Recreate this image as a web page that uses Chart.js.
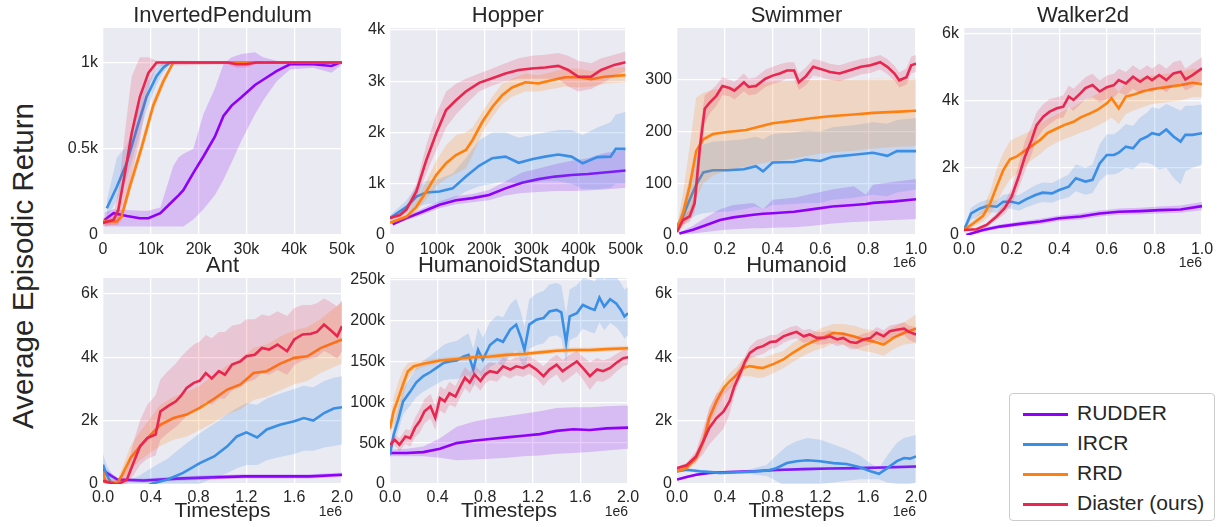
<!DOCTYPE html>
<html lang="en">
<head>
  <meta charset="UTF-8">
  <title>Average Episodic Return</title>
  <script src="https://cdn.jsdelivr.net/npm/chart.js"></script>
  <style>
    body { margin: 0; width: 1225px; height: 527px; overflow: hidden; background: #fff; position: relative;
           font-family: "Liberation Sans", Arial, sans-serif; color: #262626; }
    canvas { position: absolute; }
    #ylabel { position: absolute; left: -177px; top: 251px; width: 400px; height: 30px; line-height: 30px;
              font-size: 29.5px; text-align: center; transform: rotate(-90deg); white-space: nowrap; }
    #legend { position: absolute; left: 1009px; top: 393px; width: 206px; height: 128px; box-sizing: border-box;
              border: 1px solid #cccccc; border-radius: 4px; background: #fff; padding-top: 4px; }
    .item { height: 30px; line-height: 30px; font-size: 21px; white-space: nowrap; }
    .swatch { display: inline-block; width: 45px; height: 2.6px; margin: 0 9px 0 13px; vertical-align: middle; }
  </style>
</head>
<body>
  <div id="ylabel">Average Episodic Return</div>
  <div id="legend"></div>

  <script>
    const methods = ['RUDDER', 'IRCR', 'RRD', 'Diaster (ours)'];
    const lineColors = ['#8e00fa', '#3a8ee6', '#ff800e', '#e8264f'];
    const bandColors = ['rgba(142,0,250,0.2)', 'rgba(58,142,230,0.2)', 'rgba(255,128,14,0.2)', 'rgba(232,38,79,0.18)'];

    // tick values per panel
    const ipXTicks = [0, 10, 20, 30, 40, 50];
    const ipYTicks = [0, 0.5, 1];
    const hopXTicks = [0, 100, 200, 300, 400, 500];
    const hopYTicks = [0, 1, 2, 3, 4];
    const unitXTicks = [0, 0.2, 0.4, 0.6, 0.8, 1.0];
    const swimYTicks = [0, 100, 200, 300];
    const walkYTicks = [0, 2, 4, 6];
    const twoXTicks = [0, 0.4, 0.8, 1.2, 1.6, 2.0];
    const antYTicks = [0, 2, 4, 6];
    const hsYTicks = [0, 50, 100, 150, 200, 250];
    const humYTicks = [0, 2, 4, 6];

    // InvertedPendulum (x: k steps, y: k)
    const ipRudderX = [0.3, 2.2, 5, 7.7, 9.5, 12, 14.7, 15.8, 16.8, 18.9, 21, 23.4, 25.2, 26.9, 29, 31.8, 33.5, 36.3, 39.1, 44, 47.8, 49.6, 50];
    const ipRudder = [0.087, 0.126, 0.11, 0.097, 0.097, 0.126, 0.2, 0.23, 0.26, 0.36, 0.455, 0.57, 0.69, 0.75, 0.8, 0.87, 0.9, 0.95, 0.99, 0.99, 0.98, 1.0, 1.0];
    const ipRudderLo = [0.05, 0.05, 0.05, 0.05, 0.05, 0.05, 0.05, 0.05, 0.05, 0.09, 0.15, 0.23, 0.32, 0.42, 0.55, 0.7, 0.78, 0.89, 0.96, 0.97, 0.94, 0.98, 0.99];
    const ipRudderHi = [0.13, 0.15, 0.145, 0.14, 0.14, 0.16, 0.4, 0.45, 0.47, 0.5, 0.7, 0.85, 0.99, 1.03, 1.05, 1.06, 1.03, 1.01, 1.0, 1.0, 1.0, 1.0, 1.0];
    const ipIrcrX = [0.8, 2.9, 5, 7, 9.1, 11.2, 12.6, 14, 50];
    const ipIrcr = [0.155, 0.28, 0.42, 0.61, 0.8, 0.92, 0.97, 1.0, 1.0];
    const ipIrcrLo = [0.1, 0.2, 0.33, 0.52, 0.72, 0.87, 0.94, 0.99, 1.0];
    const ipIrcrHi = [0.2, 0.45, 0.52, 0.7, 0.88, 0.97, 1.0, 1.01, 1.0];
    const ipRrdX = [0, 2.9, 3.9, 5.6, 8.1, 10.5, 12.6, 14.7, 50];
    const ipRrd = [0.078, 0.078, 0.107, 0.28, 0.51, 0.75, 0.89, 1.0, 1.0];
    const ipRrdLo = [0.06, 0.06, 0.08, 0.24, 0.47, 0.71, 0.86, 0.99, 1.0];
    const ipRrdHi = [0.1, 0.1, 0.14, 0.32, 0.55, 0.79, 0.92, 1.01, 1.0];
    const ipDiasterX = [0, 2.2, 3.2, 4.6, 6, 7.7, 9.5, 11.2, 26, 28, 30, 32, 50];
    const ipDiaster = [0.07, 0.087, 0.145, 0.36, 0.59, 0.8, 0.94, 1.0, 1.0, 0.99, 0.99, 1.0, 1.0];
    const ipDiasterLo = [0.05, 0.06, 0.06, 0.2, 0.35, 0.55, 0.85, 0.98, 0.99, 0.97, 0.97, 0.99, 1.0];
    const ipDiasterHi = [0.09, 0.12, 0.25, 0.6, 0.92, 1.03, 1.03, 1.01, 1.0, 1.0, 1.0, 1.0, 1.0];

    // Hopper (x: k steps, y: k)
    const hopRudderX = [5.6, 35, 70, 105, 140, 175, 210, 245, 280, 315, 350, 385, 420, 455, 500];
    const hopRudder = [0.21, 0.33, 0.46, 0.59, 0.68, 0.72, 0.78, 0.91, 1.02, 1.09, 1.14, 1.17, 1.19, 1.22, 1.26];
    const hopRudderLo = [0.19, 0.29, 0.4, 0.52, 0.6, 0.64, 0.68, 0.77, 0.82, 0.84, 0.86, 0.86, 0.87, 0.89, 0.92];
    const hopRudderHi = [0.23, 0.37, 0.52, 0.66, 0.76, 0.8, 0.88, 1.05, 1.22, 1.3, 1.38, 1.45, 1.5, 1.6, 1.66];
    const hopIrcrX = [0, 35, 56, 77, 105, 133, 161, 189, 217, 245, 273, 301, 329, 357, 385, 409, 440, 468, 479, 500];
    const hopIrcr = [0.33, 0.55, 0.75, 0.83, 0.85, 0.91, 1.14, 1.35, 1.5, 1.53, 1.41, 1.48, 1.53, 1.57, 1.53, 1.4, 1.52, 1.53, 1.68, 1.68];
    const hopIrcrLo = [0.28, 0.42, 0.55, 0.6, 0.62, 0.7, 0.85, 0.95, 1.0, 1.05, 1.0, 1.02, 1.05, 1.05, 1.0, 0.9, 0.9, 0.92, 1.0, 1.0];
    const hopIrcrHi = [0.38, 0.68, 0.95, 1.05, 1.1, 1.2, 1.5, 1.85, 2.0, 2.0, 1.9, 1.95, 2.0, 2.05, 2.05, 1.95, 2.1, 2.2, 2.35, 2.4];
    const hopRrdX = [0, 35, 56, 77, 98, 119, 140, 161, 175, 196, 217, 238, 259, 287, 315, 343, 371, 399, 427, 455, 500];
    const hopRrd = [0.24, 0.36, 0.55, 0.85, 1.17, 1.4, 1.56, 1.66, 1.85, 2.21, 2.5, 2.73, 2.88, 2.98, 2.96, 3.02, 3.08, 3.08, 3.04, 3.09, 3.12];
    const hopRrdLo = [0.2, 0.3, 0.45, 0.7, 0.95, 1.1, 1.2, 1.3, 1.55, 2.0, 2.3, 2.55, 2.7, 2.8, 2.8, 2.85, 2.9, 2.88, 2.9, 2.95, 2.98];
    const hopRrdHi = [0.28, 0.42, 0.68, 1.05, 1.45, 1.75, 1.95, 2.0, 2.1, 2.4, 2.7, 2.95, 3.05, 3.15, 3.12, 3.18, 3.25, 3.25, 3.2, 3.25, 3.28];
    const hopDiasterX = [0, 21, 35, 56, 77, 98, 119, 140, 161, 189, 217, 245, 273, 301, 329, 357, 378, 399, 427, 448, 476, 500];
    const hopDiaster = [0.33, 0.39, 0.5, 0.85, 1.46, 1.98, 2.44, 2.63, 2.8, 2.97, 3.06, 3.15, 3.22, 3.25, 3.27, 3.3, 3.22, 3.09, 3.09, 3.22, 3.32, 3.37];
    const hopDiasterLo = [0.3, 0.35, 0.44, 0.7, 1.2, 1.65, 2.1, 2.35, 2.55, 2.8, 2.92, 3.0, 3.05, 3.05, 3.05, 3.05, 2.9, 2.8, 2.85, 2.95, 3.1, 3.2];
    const hopDiasterHi = [0.36, 0.43, 0.56, 1.0, 1.75, 2.35, 2.8, 2.95, 3.05, 3.15, 3.25, 3.35, 3.45, 3.5, 3.52, 3.55, 3.5, 3.4, 3.35, 3.45, 3.52, 3.58];

    // Swimmer (x: 1e6 steps, y: return)
    const swimRudderX = [0.01, 0.067, 0.12, 0.18, 0.235, 0.32, 0.36, 0.4, 0.49, 0.57, 0.65, 0.74, 0.79, 0.82, 0.91, 1.0];
    const swimRudder = [3, 10, 19, 29, 34, 39, 41, 42, 45, 50, 55, 58, 60, 62, 65, 69];
    const swimRudderLo = [1, 3, 6, 9, 11, 13, 13, 14, 15, 18, 22, 25, 26, 27, 29, 31];
    const swimRudderHi = [5, 18, 34, 50, 58, 62, 50, 68, 72, 80, 88, 94, 78, 97, 103, 108];
    const swimIrcrX = [0, 0.025, 0.053, 0.08, 0.11, 0.15, 0.21, 0.28, 0.33, 0.36, 0.4, 0.49, 0.54, 0.6, 0.65, 0.74, 0.82, 0.88, 0.92, 1.0];
    const swimIrcr = [16, 36, 68, 97, 121, 125, 125, 127, 133, 123, 140, 141, 146, 143, 151, 155, 159, 153, 162, 162];
    const swimIrcrLo = [10, 20, 30, 38, 42, 44, 45, 50, 55, 50, 58, 60, 62, 62, 68, 72, 78, 75, 82, 88];
    const swimIrcrHi = [22, 55, 110, 150, 175, 180, 182, 185, 190, 185, 195, 198, 202, 200, 208, 212, 218, 215, 222, 226];
    const swimRrdX = [0, 0.025, 0.053, 0.08, 0.11, 0.15, 0.21, 0.29, 0.35, 0.4, 0.49, 0.57, 0.65, 0.74, 0.82, 0.91, 1.0];
    const swimRrd = [10, 42, 94, 162, 185, 195, 199, 203, 210, 216, 221, 226, 230, 233, 236, 238, 240];
    const swimRrdLo = [5, 15, 35, 70, 100, 115, 125, 132, 138, 142, 148, 155, 160, 163, 167, 170, 172];
    const swimRrdHi = [15, 80, 170, 265, 275, 280, 285, 290, 293, 296, 298, 300, 301, 301, 302, 302, 302];
    const swimDiasterX = [0, 0.025, 0.053, 0.074, 0.095, 0.116, 0.137, 0.165, 0.19, 0.22, 0.24, 0.28, 0.3, 0.33, 0.37, 0.4, 0.43, 0.46, 0.49, 0.51, 0.54, 0.57, 0.6, 0.64, 0.68, 0.72, 0.77, 0.81, 0.85, 0.88, 0.91, 0.93, 0.96, 0.98, 1.0];
    const swimDiaster = [6, 29, 36, 62, 166, 244, 256, 269, 288, 284, 279, 295, 286, 288, 302, 308, 312, 318, 318, 295, 307, 325, 321, 315, 312, 318, 325, 328, 334, 325, 312, 299, 305, 328, 331];
    const swimDiasterLo = [3, 20, 25, 45, 130, 215, 235, 250, 270, 268, 262, 278, 270, 272, 286, 292, 296, 302, 302, 280, 290, 308, 305, 300, 297, 303, 310, 313, 320, 311, 298, 285, 291, 312, 315];
    const swimDiasterHi = [9, 38, 48, 80, 200, 270, 278, 290, 305, 300, 296, 312, 302, 305, 320, 325, 330, 334, 334, 312, 324, 340, 337, 331, 328, 334, 340, 343, 348, 340, 327, 314, 322, 345, 348];

    // Walker2d (x: 1e6 steps, y: k)
    const walkRudderX = [0.01, 0.08, 0.15, 0.235, 0.32, 0.4, 0.49, 0.57, 0.65, 0.74, 0.82, 0.91, 1.0];
    const walkRudder = [0.0, 0.15, 0.25, 0.33, 0.4, 0.5, 0.55, 0.64, 0.69, 0.71, 0.74, 0.76, 0.86];
    const walkRudderLo = [0, 0.1, 0.19, 0.26, 0.32, 0.42, 0.46, 0.55, 0.6, 0.62, 0.64, 0.66, 0.74];
    const walkRudderHi = [0.02, 0.2, 0.31, 0.4, 0.48, 0.58, 0.64, 0.73, 0.79, 0.81, 0.85, 0.88, 0.98];
    const walkIrcrX = [0, 0.03, 0.067, 0.1, 0.137, 0.165, 0.2, 0.23, 0.26, 0.3, 0.33, 0.37, 0.4, 0.44, 0.47, 0.51, 0.54, 0.57, 0.6, 0.63, 0.65, 0.68, 0.71, 0.74, 0.77, 0.79, 0.82, 0.85, 0.88, 0.91, 0.93, 0.96, 1.0];
    const walkIrcr = [0.15, 0.64, 0.79, 0.87, 0.84, 0.99, 0.99, 0.94, 1.06, 1.19, 1.26, 1.24, 1.34, 1.44, 1.69, 1.59, 1.64, 2.13, 2.38, 2.38, 2.45, 2.63, 2.58, 2.83, 2.93, 3.03, 2.98, 3.14, 2.93, 2.78, 2.98, 2.98, 3.03];
    const walkIrcrLo = [0.1, 0.45, 0.6, 0.68, 0.66, 0.8, 0.78, 0.72, 0.82, 0.92, 0.98, 0.96, 1.05, 1.12, 1.3, 1.2, 1.25, 1.6, 1.8, 1.8, 1.85, 2.0, 1.95, 2.15, 2.15, 2.1, 1.95, 2.0, 1.7, 1.5, 1.9, 2.0, 2.1];
    const walkIrcrHi = [0.2, 0.82, 0.98, 1.06, 1.02, 1.2, 1.22, 1.18, 1.32, 1.48, 1.56, 1.55, 1.66, 1.8, 2.1, 2.0, 2.1, 2.7, 3.0, 3.0, 3.1, 3.3, 3.25, 3.5, 3.65, 3.8, 3.75, 3.9, 3.8, 3.7, 3.85, 3.85, 3.88];
    const walkRrdX = [0, 0.04, 0.08, 0.11, 0.137, 0.165, 0.193, 0.22, 0.25, 0.28, 0.32, 0.35, 0.39, 0.42, 0.46, 0.49, 0.53, 0.56, 0.6, 0.62, 0.65, 0.68, 0.71, 0.75, 0.79, 0.85, 0.91, 0.96, 1.0];
    const walkRrd = [0.15, 0.35, 0.57, 0.94, 1.44, 1.93, 2.25, 2.33, 2.48, 2.63, 2.83, 3.03, 3.17, 3.27, 3.37, 3.5, 3.62, 3.72, 3.92, 4.07, 3.77, 4.12, 4.17, 4.27, 4.34, 4.4, 4.46, 4.53, 4.49];
    const walkRrdLo = [0.1, 0.25, 0.4, 0.6, 0.95, 1.35, 1.65, 1.8, 2.0, 2.2, 2.4, 2.6, 2.75, 2.85, 2.95, 3.05, 3.15, 3.25, 3.4, 3.5, 3.3, 3.6, 3.7, 3.8, 3.9, 3.95, 4.0, 4.1, 4.1];
    const walkRrdHi = [0.2, 0.45, 0.8, 1.3, 1.95, 2.45, 2.8, 2.9, 3.0, 3.1, 3.3, 3.45, 3.6, 3.7, 3.8, 3.95, 4.1, 4.2, 4.4, 4.5, 4.25, 4.55, 4.6, 4.7, 4.75, 4.8, 4.85, 4.95, 4.9];
    const walkDiasterX = [0, 0.053, 0.095, 0.137, 0.17, 0.2, 0.23, 0.256, 0.284, 0.305, 0.333, 0.36, 0.39, 0.417, 0.44, 0.46, 0.49, 0.51, 0.54, 0.57, 0.6, 0.63, 0.65, 0.68, 0.71, 0.74, 0.77, 0.79, 0.82, 0.85, 0.88, 0.91, 0.93, 0.96, 1.0];
    const walkDiaster = [0.15, 0.17, 0.3, 0.55, 0.79, 1.14, 1.74, 2.33, 2.83, 3.27, 3.52, 3.67, 3.77, 3.82, 4.12, 4.02, 4.22, 4.37, 4.46, 4.27, 4.4, 4.46, 4.61, 4.51, 4.71, 4.56, 4.71, 4.61, 4.76, 4.61, 4.81, 4.86, 4.63, 4.76, 4.96];
    const walkDiasterLo = [0.12, 0.13, 0.24, 0.45, 0.62, 0.9, 1.4, 1.9, 2.4, 2.85, 3.15, 3.3, 3.45, 3.5, 3.8, 3.7, 3.9, 4.05, 4.1, 3.95, 4.05, 4.1, 4.25, 4.15, 4.35, 4.2, 4.35, 4.25, 4.4, 4.25, 4.45, 4.5, 4.3, 4.4, 4.6];
    const walkDiasterHi = [0.18, 0.21, 0.36, 0.65, 0.96, 1.4, 2.1, 2.8, 3.25, 3.65, 3.9, 4.05, 4.1, 4.15, 4.45, 4.35, 4.55, 4.7, 4.8, 4.6, 4.75, 4.8, 4.95, 4.85, 5.05, 4.9, 5.05, 4.95, 5.1, 4.95, 5.15, 5.2, 4.95, 5.1, 5.3];

    // Ant (x: 1e6 steps, y: k)
    const antRudderX = [0, 0.03, 0.12, 0.34, 0.62, 0.9, 1.18, 1.46, 1.73, 2.0];
    const antRudder = [0.45, 0.35, 0.14, 0.11, 0.17, 0.21, 0.24, 0.24, 0.24, 0.29];
    const antRudderLo = [0.3, 0.25, 0.08, 0.05, 0.1, 0.14, 0.17, 0.17, 0.17, 0.22];
    const antRudderHi = [0.6, 0.45, 0.2, 0.17, 0.24, 0.28, 0.31, 0.31, 0.31, 0.36];
    const antIrcrX = [0, 0.03, 0.07, 0.1, 0.2, 0.3, 0.4, 0.54, 0.67, 0.81, 0.93, 1.04, 1.12, 1.2, 1.29, 1.37, 1.48, 1.6, 1.68, 1.76, 1.85, 1.93, 2.0];
    const antIrcr = [0.61, 0.29, 0.03, -0.2, -0.4, -0.25, 0.0, 0.14, 0.35, 0.66, 0.87, 1.19, 1.5, 1.63, 1.47, 1.72, 1.87, 1.98, 2.08, 2.0, 2.24, 2.38, 2.42];
    const antIrcrLo = [0.3, 0.0, -0.3, -0.6, -0.9, -0.8, -0.5, -0.4, -0.2, 0.0, 0.2, 0.35, 0.5, 0.6, 0.6, 0.75, 0.85, 0.95, 1.05, 1.05, 1.15, 1.2, 1.25];
    const antIrcrHi = [0.95, 0.6, 0.35, 0.2, 0.1, 0.25, 0.5, 0.8, 1.2, 1.6, 1.9, 2.2, 2.4, 2.55, 2.5, 2.7, 2.85, 3.0, 3.1, 3.05, 3.25, 3.35, 3.4];
    const antRrdX = [0, 0.02, 0.12, 0.16, 0.23, 0.31, 0.4, 0.48, 0.59, 0.7, 0.81, 0.93, 1.04, 1.15, 1.26, 1.37, 1.48, 1.6, 1.71, 1.82, 2.0];
    const antRrd = [0.4, 0.08, 0.03, 0.29, 0.82, 1.19, 1.56, 1.87, 2.08, 2.19, 2.4, 2.69, 2.98, 3.14, 3.5, 3.56, 3.79, 3.98, 4.03, 4.29, 4.56];
    const antRrdLo = [0.2, 0.0, 0.0, 0.1, 0.45, 0.75, 1.0, 1.2, 1.4, 1.5, 1.7, 1.95, 2.2, 2.35, 2.65, 2.75, 2.95, 3.15, 3.25, 3.5, 3.8];
    const antRrdHi = [0.6, 0.2, 0.12, 0.5, 1.2, 1.65, 2.1, 2.5, 2.75, 2.9, 3.1, 3.45, 3.75, 3.95, 4.3, 4.4, 4.65, 4.85, 4.95, 5.2, 5.75];
    const antDiasterX = [0, 0.12, 0.2, 0.26, 0.31, 0.37, 0.44, 0.48, 0.54, 0.61, 0.65, 0.7, 0.76, 0.81, 0.86, 0.91, 0.97, 1.02, 1.08, 1.15, 1.2, 1.27, 1.33, 1.39, 1.46, 1.54, 1.6, 1.67, 1.74, 1.79, 1.85, 1.9, 1.96, 2.0];
    const antDiaster = [0.1, -0.02, 0.14, 0.72, 1.19, 1.45, 1.56, 2.29, 2.45, 2.61, 2.77, 3.03, 3.19, 3.26, 3.5, 3.33, 3.56, 3.45, 3.77, 3.87, 4.03, 4.08, 4.29, 4.24, 4.4, 4.19, 4.56, 4.72, 4.74, 4.8, 5.03, 4.87, 4.66, 4.98];
    const antDiasterLo = [0.0, -0.1, 0.0, 0.3, 0.6, 0.8, 0.9, 1.4, 1.6, 1.8, 1.95, 2.15, 2.3, 2.4, 2.6, 2.5, 2.7, 2.7, 2.95, 3.05, 3.2, 3.3, 3.5, 3.45, 3.6, 3.45, 3.75, 3.9, 3.95, 4.0, 4.2, 4.1, 3.95, 4.2];
    const antDiasterHi = [0.2, 0.1, 0.5, 1.4, 2.0, 2.5, 2.8, 3.3, 3.55, 3.8, 4.0, 4.2, 4.4, 4.5, 4.7, 4.6, 4.8, 4.8, 5.0, 5.05, 5.2, 5.2, 5.35, 5.3, 5.45, 5.3, 5.55, 5.65, 5.65, 5.7, 5.85, 5.75, 5.6, 5.8];

    // HumanoidStandup (x: 1e6 steps, y: k)
    const hsRudderX = [0, 0.14, 0.28, 0.42, 0.56, 0.7, 0.84, 0.98, 1.12, 1.26, 1.4, 1.54, 1.68, 1.82, 2.0];
    const hsRudder = [38, 38, 39, 43, 50, 53, 55, 57, 59, 61, 65, 67, 66, 68, 69];
    const hsRudderLo = [34, 34, 34, 32, 29, 30, 31, 32, 34, 35, 37, 38, 39, 41, 43];
    const hsRudderHi = [42, 43, 46, 56, 70, 76, 80, 83, 86, 89, 93, 94, 94, 95, 96];
    const hsIrcrX = [0, 0.03, 0.07, 0.11, 0.17, 0.22, 0.28, 0.34, 0.39, 0.45, 0.5, 0.56, 0.62, 0.66, 0.7, 0.74, 0.78, 0.84, 0.9, 0.95, 1.01, 1.06, 1.1, 1.13, 1.17, 1.23, 1.29, 1.34, 1.4, 1.44, 1.48, 1.51, 1.57, 1.62, 1.68, 1.72, 1.76, 1.8, 1.85, 1.9, 1.94, 1.97, 2.0];
    const hsIrcr = [36, 60, 79, 101, 113, 124, 132, 137, 142, 148, 150, 151, 156, 158, 140, 164, 152, 170, 177, 174, 189, 195, 179, 164, 195, 201, 203, 211, 213, 210, 173, 205, 209, 219, 215, 213, 228, 217, 226, 221, 213, 205, 209];
    const hsIrcrLo = [32, 50, 65, 85, 96, 106, 113, 118, 122, 127, 128, 128, 132, 133, 118, 138, 127, 143, 148, 144, 158, 163, 150, 138, 165, 170, 172, 180, 182, 178, 148, 176, 180, 190, 186, 184, 198, 188, 197, 192, 185, 178, 182];
    const hsIrcrHi = [40, 70, 94, 117, 130, 142, 151, 157, 163, 170, 173, 175, 181, 184, 165, 191, 179, 198, 206, 204, 220, 227, 210, 192, 226, 233, 236, 244, 246, 243, 208, 238, 243, 252, 250, 248, 258, 250, 258, 254, 246, 238, 241];
    const hsRrdX = [0, 0.03, 0.07, 0.11, 0.15, 0.2, 0.28, 0.42, 0.56, 0.7, 0.84, 0.98, 1.12, 1.26, 1.4, 1.54, 1.68, 1.82, 2.0];
    const hsRrd = [68, 89, 105, 122, 138, 144, 147, 151, 153, 155, 156, 158, 159, 161, 163, 164, 164, 165, 166];
    const hsRrdLo = [62, 72, 85, 105, 128, 138, 143, 148, 150, 152, 153, 155, 156, 158, 160, 161, 161, 162, 163];
    const hsRrdHi = [74, 105, 125, 140, 148, 150, 151, 154, 156, 158, 159, 161, 162, 164, 166, 167, 167, 168, 169];
    const hsDiasterX = [0, 0.04, 0.08, 0.13, 0.17, 0.21, 0.25, 0.29, 0.34, 0.38, 0.42, 0.46, 0.5, 0.55, 0.59, 0.63, 0.67, 0.71, 0.76, 0.8, 0.84, 0.9, 0.95, 1.01, 1.06, 1.12, 1.17, 1.23, 1.29, 1.34, 1.4, 1.45, 1.51, 1.57, 1.62, 1.68, 1.74, 1.79, 1.85, 1.9, 1.96, 2.0];
    const hsDiaster = [48, 54, 48, 58, 56, 69, 77, 89, 95, 81, 105, 101, 111, 107, 119, 130, 124, 134, 126, 134, 138, 136, 144, 140, 144, 142, 146, 140, 132, 140, 146, 138, 144, 150, 142, 132, 140, 138, 142, 148, 154, 155];
    const hsDiasterLo = [44, 47, 40, 49, 46, 57, 63, 74, 80, 66, 90, 86, 97, 94, 106, 117, 111, 122, 114, 123, 127, 125, 133, 129, 133, 131, 135, 129, 120, 128, 134, 124, 130, 137, 128, 115, 126, 125, 130, 137, 144, 146];
    const hsDiasterHi = [52, 61, 56, 67, 66, 81, 91, 104, 110, 96, 120, 116, 125, 120, 132, 143, 137, 146, 138, 145, 149, 147, 155, 151, 155, 153, 157, 151, 144, 152, 158, 152, 158, 163, 156, 149, 154, 151, 154, 159, 164, 164];

    // Humanoid (x: 1e6 steps, y: k)
    const humRudderX = [0, 0.08, 0.16, 0.27, 0.44, 0.64, 0.83, 1.06, 1.28, 1.5, 1.73, 2.0];
    const humRudder = [0.14, 0.22, 0.29, 0.35, 0.38, 0.4, 0.44, 0.47, 0.49, 0.5, 0.52, 0.55];
    const humRudderLo = [0.1, 0.18, 0.25, 0.31, 0.34, 0.36, 0.4, 0.43, 0.45, 0.46, 0.48, 0.5];
    const humRudderHi = [0.18, 0.26, 0.33, 0.39, 0.42, 0.44, 0.48, 0.51, 0.53, 0.54, 0.56, 0.6];
    const humIrcrX = [0, 0.08, 0.19, 0.36, 0.58, 0.75, 0.83, 0.92, 1.0, 1.09, 1.2, 1.31, 1.42, 1.53, 1.62, 1.69, 1.76, 1.84, 1.9, 1.95, 2.0];
    const humIrcr = [0.4, 0.45, 0.4, 0.35, 0.38, 0.42, 0.5, 0.66, 0.72, 0.75, 0.72, 0.66, 0.63, 0.53, 0.4, 0.32, 0.5, 0.72, 0.82, 0.8, 0.87];
    const humIrcrLo = [0.35, 0.4, 0.35, 0.3, 0.32, 0.25, 0.1, -0.1, -0.1, 0.0, 0.0, 0.05, 0.1, 0.15, 0.15, 0.15, 0.05, 0.0, 0.0, 0.0, 0.05];
    const humIrcrHi = [0.45, 0.5, 0.45, 0.4, 0.44, 0.6, 0.9, 1.2, 1.35, 1.45, 1.4, 1.25, 1.1, 0.9, 0.65, 0.5, 0.9, 1.3, 1.45, 1.5, 1.55];
    const humRrdX = [0, 0.08, 0.16, 0.22, 0.27, 0.33, 0.39, 0.44, 0.5, 0.55, 0.61, 0.67, 0.72, 0.81, 0.89, 0.97, 1.06, 1.14, 1.23, 1.31, 1.39, 1.48, 1.56, 1.64, 1.73, 1.81, 1.9, 2.0];
    const humRrd = [0.4, 0.5, 0.82, 1.35, 2.08, 2.61, 3.03, 3.24, 3.45, 3.66, 3.72, 3.68, 3.66, 3.79, 3.93, 4.14, 4.35, 4.5, 4.63, 4.77, 4.74, 4.66, 4.56, 4.5, 4.4, 4.61, 4.77, 4.9];
    const humRrdLo = [0.35, 0.42, 0.65, 1.1, 1.8, 2.35, 2.8, 3.0, 3.2, 3.4, 3.4, 3.35, 3.35, 3.5, 3.65, 3.85, 4.05, 4.2, 4.3, 4.45, 4.4, 4.3, 4.2, 4.15, 4.05, 4.25, 4.4, 4.45];
    const humRrdHi = [0.45, 0.58, 1.0, 1.6, 2.35, 2.85, 3.25, 3.5, 3.7, 3.95, 4.05, 4.0, 3.98, 4.1, 4.2, 4.45, 4.65, 4.8, 4.95, 5.05, 5.05, 5.0, 4.9, 4.85, 4.75, 4.95, 5.1, 5.35];
    const humDiasterX = [0, 0.08, 0.16, 0.22, 0.27, 0.33, 0.39, 0.44, 0.48, 0.53, 0.57, 0.61, 0.67, 0.72, 0.78, 0.83, 0.89, 0.95, 1.0, 1.06, 1.11, 1.17, 1.23, 1.28, 1.34, 1.39, 1.45, 1.5, 1.56, 1.62, 1.67, 1.73, 1.78, 1.84, 1.9, 1.94, 2.0];
    const humDiaster = [0.5, 0.59, 0.87, 1.35, 1.77, 2.08, 2.29, 2.61, 3.08, 3.5, 3.87, 4.14, 4.29, 4.35, 4.48, 4.5, 4.66, 4.74, 4.8, 4.66, 4.72, 4.61, 4.61, 4.66, 4.56, 4.61, 4.48, 4.45, 4.56, 4.61, 4.77, 4.66, 4.82, 4.87, 4.9, 4.8, 4.72];
    const humDiasterLo = [0.45, 0.52, 0.7, 0.95, 1.25, 1.5, 1.75, 2.2, 2.8, 3.3, 3.7, 3.95, 4.05, 4.1, 4.25, 4.3, 4.45, 4.55, 4.6, 4.45, 4.5, 4.4, 4.4, 4.45, 4.35, 4.4, 4.25, 4.25, 4.35, 4.4, 4.55, 4.45, 4.6, 4.65, 4.7, 4.55, 4.45];
    const humDiasterHi = [0.55, 0.66, 1.05, 1.75, 2.4, 2.85, 3.0, 3.1, 3.4, 3.75, 4.05, 4.35, 4.55, 4.6, 4.7, 4.7, 4.85, 4.95, 5.0, 4.85, 4.9, 4.8, 4.8, 4.85, 4.75, 4.8, 4.7, 4.65, 4.75, 4.8, 4.95, 4.85, 5.0, 5.05, 5.1, 5.0, 4.95];

    const kFmt = v => v === 0 ? '0' : +v.toFixed(2) + 'k';
    const numFmt = v => String(v);
    const decFmt = v => v.toFixed(1);

    const AXIS_W = 50, PAD_R = 20, TITLE_H = 30;
    const INK = '#262626';

    const panels = [
      { title: 'InvertedPendulum', L: 103, T: 28, R: 342, B: 235, xMax: 50, yMax: 1.2, xTicks: ipXTicks, yTicks: ipYTicks, xFmt: kFmt, yFmt: kFmt,
        series: [[ipRudderX, ipRudder, ipRudderLo, ipRudderHi], [ipIrcrX, ipIrcr, ipIrcrLo, ipIrcrHi], [ipRrdX, ipRrd, ipRrdLo, ipRrdHi], [ipDiasterX, ipDiaster, ipDiasterLo, ipDiasterHi]] },
      { title: 'Hopper', L: 390, T: 28, R: 628, B: 235, xMax: 500, yMax: 4.04, xTicks: hopXTicks, yTicks: hopYTicks, xFmt: kFmt, yFmt: kFmt,
        series: [[hopRudderX, hopRudder, hopRudderLo, hopRudderHi], [hopIrcrX, hopIrcr, hopIrcrLo, hopIrcrHi], [hopRrdX, hopRrd, hopRrdLo, hopRrdHi], [hopDiasterX, hopDiaster, hopDiasterLo, hopDiasterHi]] },
      { title: 'Swimmer', L: 677, T: 28, R: 916, B: 235, xMax: 1, yMax: 400, xTicks: unitXTicks, yTicks: swimYTicks, xFmt: decFmt, yFmt: numFmt, offset: '1e6',
        series: [[swimRudderX, swimRudder, swimRudderLo, swimRudderHi], [swimIrcrX, swimIrcr, swimIrcrLo, swimIrcrHi], [swimRrdX, swimRrd, swimRrdLo, swimRrdHi], [swimDiasterX, swimDiaster, swimDiasterLo, swimDiasterHi]] },
      { title: 'Walker2d', L: 964, T: 28, R: 1202, B: 235, xMax: 1, yMax: 6.16, xTicks: unitXTicks, yTicks: walkYTicks, xFmt: decFmt, yFmt: kFmt, offset: '1e6',
        series: [[walkRudderX, walkRudder, walkRudderLo, walkRudderHi], [walkIrcrX, walkIrcr, walkIrcrLo, walkIrcrHi], [walkRrdX, walkRrd, walkRrdLo, walkRrdHi], [walkDiasterX, walkDiaster, walkDiasterLo, walkDiasterHi]] },
      { title: 'Ant', L: 103, T: 278, R: 342, B: 484, xMax: 2, yMax: 6.5, xTicks: twoXTicks, yTicks: antYTicks, xFmt: decFmt, yFmt: kFmt, offset: '1e6', xTitle: 'Timesteps',
        series: [[antRudderX, antRudder, antRudderLo, antRudderHi], [antIrcrX, antIrcr, antIrcrLo, antIrcrHi], [antRrdX, antRrd, antRrdLo, antRrdHi], [antDiasterX, antDiaster, antDiasterLo, antDiasterHi]] },
      { title: 'HumanoidStandup', L: 390, T: 278, R: 628, B: 484, xMax: 2, yMax: 252, xTicks: twoXTicks, yTicks: hsYTicks, xFmt: decFmt, yFmt: kFmt, offset: '1e6', xTitle: 'Timesteps',
        series: [[hsRudderX, hsRudder, hsRudderLo, hsRudderHi], [hsIrcrX, hsIrcr, hsIrcrLo, hsIrcrHi], [hsRrdX, hsRrd, hsRrdLo, hsRrdHi], [hsDiasterX, hsDiaster, hsDiasterLo, hsDiasterHi]] },
      { title: 'Humanoid', L: 677, T: 278, R: 916, B: 484, xMax: 2, yMax: 6.5, xTicks: twoXTicks, yTicks: humYTicks, xFmt: decFmt, yFmt: kFmt, offset: '1e6', xTitle: 'Timesteps',
        series: [[humRudderX, humRudder, humRudderLo, humRudderHi], [humIrcrX, humIrcr, humIrcrLo, humIrcrHi], [humRrdX, humRrd, humRrdLo, humRrdHi], [humDiasterX, humDiaster, humDiasterLo, humDiasterHi]] }
    ];

    // grey plot face like seaborn darkgrid
    const plotBackground = {
      id: 'plotBackground',
      beforeDraw(chart) {
        const { ctx, chartArea: a } = chart;
        ctx.save();
        ctx.fillStyle = '#eaeaf2';
        ctx.fillRect(a.left, a.top, a.right - a.left, a.bottom - a.top);
        ctx.restore();
      }
    };
    // the "1e6" offset text under the x axis
    const sciOffset = {
      id: 'sciOffset',
      afterDraw(chart, args, opts) {
        if (!opts.text) return;
        const { ctx, chartArea: a } = chart;
        ctx.save();
        ctx.font = '14px "Liberation Sans", Arial, sans-serif';
        ctx.fillStyle = INK;
        ctx.textAlign = 'right';
        ctx.textBaseline = 'middle';
        ctx.fillText(opts.text, a.right, a.bottom + 28);
        ctx.restore();
      }
    };
    Chart.register(plotBackground, sciOffset);
    Chart.defaults.font.family = '"Liberation Sans", Arial, sans-serif';
    Chart.defaults.color = INK;

    function makePanel(p) {
      const xh = p.xTitle ? 43 : 38;
      const cv = document.createElement('canvas');
      cv.width = p.R - p.L + AXIS_W + PAD_R;
      cv.height = p.B - p.T + TITLE_H + xh;
      cv.style.left = (p.L - AXIS_W) + 'px';
      cv.style.top = (p.T - TITLE_H) + 'px';
      document.body.appendChild(cv);

      const datasets = [];
      p.series.forEach(([xs, mean, lo, hi], k) => {
        const band = (3 - k) * 2 + 1;
        datasets.push({ data: xs.map((x, i) => ({ x, y: lo[i] })), borderColor: 'rgba(0,0,0,0)', borderWidth: 0,
                        pointRadius: 0, fill: false, order: band });
        datasets.push({ data: xs.map((x, i) => ({ x, y: hi[i] })), borderColor: 'rgba(0,0,0,0)', borderWidth: 0,
                        pointRadius: 0, fill: '-1', backgroundColor: bandColors[k], order: band });
        datasets.push({ label: methods[k], data: xs.map((x, i) => ({ x, y: mean[i] })), borderColor: lineColors[k],
                        borderWidth: 2.6, pointRadius: 0, fill: false, order: band - 1 });
      });

      const grid = { color: '#ffffff', lineWidth: 1.3, drawTicks: false };
      new Chart(cv, {
        type: 'line',
        data: { datasets },
        options: {
          responsive: false,
          animation: false,
          devicePixelRatio: 1,
          events: [],
          layout: { padding: { left: 0, right: PAD_R, top: 0, bottom: 0 } },
          plugins: {
            legend: { display: false },
            tooltip: { enabled: false },
            title: { display: true, text: p.title, fullSize: false, color: INK,
                     font: { size: 22, weight: 'normal', lineHeight: 1 }, padding: { top: 6.7, bottom: 1.3 } },
            sciOffset: { text: p.offset || '' }
          },
          scales: {
            x: {
              type: 'linear', min: 0, max: p.xMax,
              afterFit: s => { s.height = xh; },
              afterBuildTicks: s => { s.ticks = p.xTicks.map(v => ({ value: v })); },
              border: { display: false },
              grid,
              ticks: { autoSkip: false, maxRotation: 0, padding: p.xTitle ? 4 : 5,
                       font: { size: 16 }, color: INK, callback: p.xFmt },
              title: { display: !!p.xTitle, text: p.xTitle || '', font: { size: 21 }, color: INK, padding: { top: 0, bottom: 3 } }
            },
            y: {
              min: 0, max: p.yMax,
              afterFit: s => { s.width = AXIS_W; },
              afterBuildTicks: s => { s.ticks = p.yTicks.map(v => ({ value: v })); },
              border: { display: false },
              grid,
              ticks: { padding: 5, font: { size: 16 }, color: INK, callback: p.yFmt }
            }
          }
        }
      });
    }

    panels.forEach(makePanel);

    const legend = document.getElementById('legend');
    methods.forEach((m, k) => {
      const row = document.createElement('div');
      row.className = 'item';
      row.innerHTML = '<span class="swatch" style="background:' + lineColors[k] + '"></span>' + m;
      legend.appendChild(row);
    });
  </script>
</body>
</html>
